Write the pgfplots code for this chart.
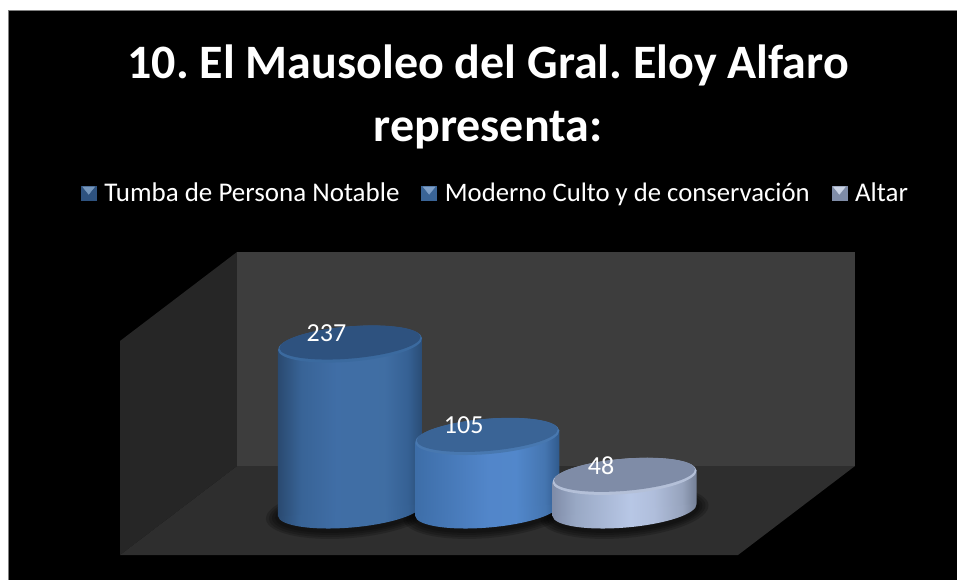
\documentclass[border=0pt]{standalone}
\usepackage{pgfplots}
\pgfplotsset{compat=1.18}
\usepackage{fontspec}
\setmainfont{Carlito}
\definecolor{wallback}{HTML}{3D3D3D}
\definecolor{wallfloor}{HTML}{2E2E2E}
\definecolor{wallleft}{HTML}{262626}
\definecolor{aT}{HTML}{2E527F}\definecolor{aE}{HTML}{3B6A9F}
\definecolor{bT}{HTML}{3A6496}\definecolor{bE}{HTML}{4878B0}
\definecolor{cT}{HTML}{7F8CA7}\definecolor{cE}{HTML}{B4C0D8}
\pgfdeclarehorizontalshading{cylA}{100bp}{rgb(0bp)=(0.165,0.29,0.44);rgb(25bp)=(0.165,0.29,0.44);rgb(33bp)=(0.22,0.39,0.59);rgb(45bp)=(0.25,0.43,0.65);rgb(62bp)=(0.25,0.43,0.64);rgb(70bp)=(0.21,0.38,0.58);rgb(75bp)=(0.165,0.30,0.46);rgb(100bp)=(0.165,0.30,0.46)}
\pgfdeclarehorizontalshading{cylB}{100bp}{rgb(0bp)=(0.24,0.43,0.66);rgb(25bp)=(0.24,0.43,0.66);rgb(50bp)=(0.32,0.525,0.79);rgb(60bp)=(0.32,0.53,0.795);rgb(70bp)=(0.27,0.46,0.69);rgb(75bp)=(0.185,0.35,0.55);rgb(100bp)=(0.185,0.35,0.55)}
\pgfdeclarehorizontalshading{cylC}{100bp}{rgb(0bp)=(0.50,0.55,0.66);rgb(25bp)=(0.50,0.55,0.66);rgb(33bp)=(0.60,0.66,0.77);rgb(52bp)=(0.72,0.78,0.90);rgb(60bp)=(0.69,0.745,0.86);rgb(70bp)=(0.59,0.64,0.74);rgb(75bp)=(0.455,0.50,0.59);rgb(100bp)=(0.455,0.50,0.59)}
\newcommand{\ellfill}[6]{\pgfsetfillcolor{#1}\pgfsetfillopacity{#6}\pgfpathellipse{\pgfqpoint{0pt}{#2}}{\pgfqpoint{#3}{#4}}{\pgfqpoint{-1.5pt}{#5}}\pgfusepath{fill}}
\pgfdeclareplotmark{shadowmark}{%
  \ellfill{black}{-2pt}{84pt}{7pt}{26pt}{0.18}%
  \ellfill{black}{-2pt}{81pt}{7pt}{24pt}{0.18}%
  \ellfill{black}{-2pt}{78pt}{6.5pt}{22pt}{0.18}%
  \ellfill{black}{-2pt}{75pt}{6pt}{20pt}{0.18}}
\newcommand{\cylbase}[2]{\pgfdeclareplotmark{#1}{\pgfpathellipse{\pgfpointorigin}{\pgfqpoint{72pt}{6pt}}{\pgfqpoint{-1.5pt}{17.5pt}}\pgfshadepath{#2}{0}\pgfusepath{discard}}}
\cylbase{baseA}{cylA}
\cylbase{baseB}{cylB}
\cylbase{baseC}{cylC}
\newcommand{\cyltop}[3]{\pgfdeclareplotmark{#1}{%
  \ellfill{#2}{0pt}{72pt}{6pt}{17.5pt}{1}%
  \ellfill{#3}{1.6pt}{70.5pt}{5.9pt}{16pt}{1}}}
\cyltop{topA}{aE}{aT}
\cyltop{topB}{bE}{bT}
\cyltop{topC}{cE}{cT}
\newcommand{\legsq}[2]{\fill[#1] (0pt,-7pt) rectangle (15pt,7pt);
  \fill[#2] (1.5pt,6pt) -- (13.5pt,6pt) -- (7.5pt,-1.5pt) -- cycle;}
\begin{document}
\frenchspacing
\begin{tikzpicture}
\path[use as bounding box] (0pt,0pt) rectangle (957pt,579pt);
% frame, walls and floor, in pixel coordinates of the picture
\begin{axis}[name=frame,at={(0pt,0pt)},anchor=south west,scale only axis,width=957pt,height=579pt,
  xmin=0,xmax=957,ymin=0,ymax=579,hide axis,clip=false,
  title={10. El Mausoleo del Gral. Eloy Alfaro\\representa:},
  title style={at={(rel axis cs:0.51,0.822)},anchor=center,align=center,text=white,
    font=\fontsize{48}{63}\selectfont\bfseries}]
\addplot[fill=black,draw=gray,line width=0.6pt] coordinates {(8,-4)(964,-4)(964,568.5)(8,568.5)} -- cycle;
\addplot[fill=wallleft,draw=none] coordinates {(120,238)(237,327)(237,113)(120,24)} -- cycle;
\addplot[fill=wallback,draw=none] coordinates {(237,327)(855,327)(855,113)(237,113)} -- cycle;
\addplot[fill=wallfloor,draw=none] coordinates {(237,113)(855,113)(738,24)(120,24)} -- cycle;
\end{axis}
% the data: value 0 lies on the base line of the cylinders
\begin{axis}[at={(0pt,0pt)},anchor=south west,scale only axis,width=957pt,height=579pt,
  xmin=-2.55,xmax=4.4226,ymin=-98.57,ymax=728.57,hide axis,clip=false,clip mode=individual,
  /pgf/number format/assume math mode=true,
  legend columns=-1,
  legend style={draw=none,fill=none,text=white,font=\fontsize{27}{30}\selectfont,
    at={(rel axis cs:0.0846,0.667)},anchor=west,inner sep=0pt,outer sep=0pt,
    /tikz/every odd column/.append style={column sep=6pt},
    /tikz/every even column/.append style={column sep=20pt}},
  ]
\addlegendimage{legend image code/.code={\legsq{aT}{aE!70!white}}}
\addlegendimage{legend image code/.code={\legsq{bT}{bE!70!white}}}
\addlegendimage{legend image code/.code={\legsq{cT}{cE!70!white}}}
\addplot[only marks,mark=shadowmark,forget plot] coordinates {(0,0)(1,0)(2,0)};
\addplot[only marks,mark=baseA,forget plot] coordinates {(0,0)};
\addplot[ybar,bar width=144pt,bar shift=0pt,draw=none,shading=cylA,forget plot,
  shift={(0pt,-30.6pt)},yslant=0.0875] coordinates {(0,237)};
\addplot[only marks,mark=topA,forget plot] coordinates {(0,237)};
\addplot[only marks,mark=baseB,forget plot] coordinates {(1,0)};
\addplot[ybar,bar width=144pt,bar shift=0pt,draw=none,shading=cylB,forget plot,
  shift={(0pt,-42.6pt)},yslant=0.0875] coordinates {(1,105)};
\addplot[only marks,mark=topB,forget plot] coordinates {(1,105)};
\addplot[only marks,mark=baseC,forget plot] coordinates {(2,0)};
\addplot[ybar,bar width=144pt,bar shift=0pt,draw=none,shading=cylC,forget plot,
  shift={(0pt,-54.6pt)},yslant=0.0875] coordinates {(2,48)};
\addplot[only marks,mark=topC,forget plot] coordinates {(2,48)};
\addplot[only marks,mark=none,forget plot,
  nodes near coords,
  every node near coord/.style={anchor=center,xshift=-23.5pt,yshift=11pt,text=white,font=\fontsize{26}{30}\selectfont}]
  coordinates {(0,237)(1,105)(2,48)};
\legend{Tumba de Persona Notable,{\fontsize{26.7}{30}\selectfont Moderno Culto y de conservación},Altar}
\end{axis}
\end{tikzpicture}
\end{document}
